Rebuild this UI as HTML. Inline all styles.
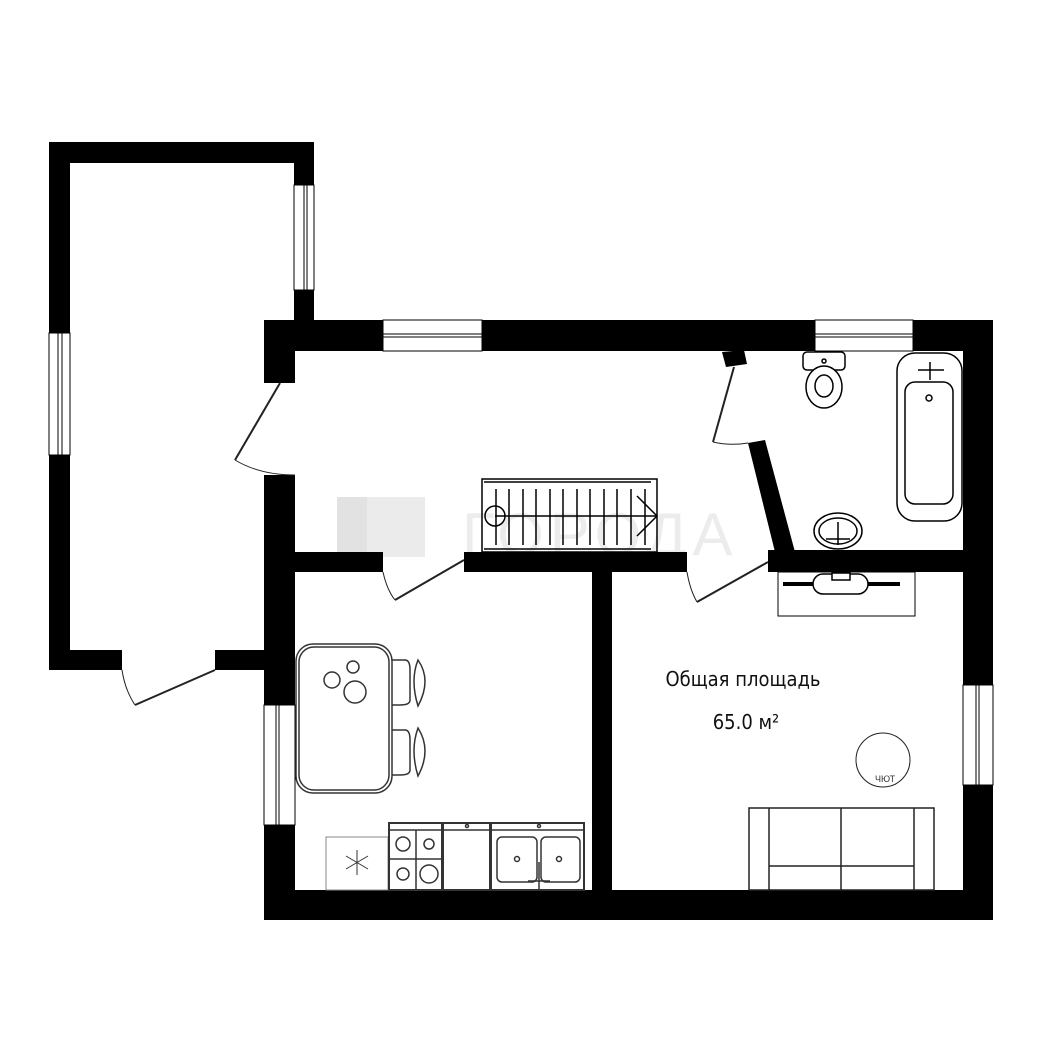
<!DOCTYPE html>
<html><head><meta charset="utf-8"><style>
html,body{margin:0;padding:0;background:#fff;}
svg{display:block;}
</style></head><body>
<svg width="1064" height="1064" viewBox="0 0 1064 1064" xmlns="http://www.w3.org/2000/svg" font-family="Liberation Sans, sans-serif">
<rect width="1064" height="1064" fill="#fff"/>
<!-- watermark -->
<g fill="#ebebeb">
<rect x="337" y="497" width="88" height="60"/>
<rect x="337" y="497" width="30" height="60" fill="#e2e2e2"/>
</g>
<text x="462" y="555" font-size="60" fill="#ececec" letter-spacing="6">ГОРОДА</text>

<g fill="#000">
<!-- annex -->
<rect x="49" y="142" width="265" height="21"/>
<rect x="49" y="142" width="21" height="528"/>
<rect x="49" y="650" width="73" height="20"/>
<rect x="215" y="650" width="50" height="20"/>
<rect x="294" y="142" width="20" height="180"/>
<!-- main outer -->
<rect x="264" y="320" width="729" height="31"/>
<rect x="264" y="320" width="31" height="63"/>
<rect x="264" y="475" width="31" height="445"/>
<rect x="963" y="320" width="30" height="600"/>
<rect x="264" y="890" width="729" height="30"/>
<!-- interior -->
<rect x="295" y="552" width="88" height="20"/>
<rect x="464" y="552" width="223" height="20"/>
<rect x="768" y="550" width="195" height="22"/>
<rect x="592" y="572" width="20" height="318"/>
<polygon points="722,352 744,350 747,364 726,367"/>
<polygon points="748,443 765,440 795,552 775,552"/>
</g>
<!-- windows -->
<g fill="#fff" stroke="#000" stroke-width="1">
<rect x="294" y="185" width="20" height="105"/>
<line x1="304" y1="185" x2="304" y2="290"/><line x1="307" y1="185" x2="307" y2="290"/>
<rect x="49" y="333" width="21" height="122"/>
<line x1="58" y1="333" x2="58" y2="455"/><line x1="62" y1="333" x2="62" y2="455"/>
<rect x="383" y="320" width="99" height="31"/>
<line x1="383" y1="334" x2="482" y2="334"/><line x1="383" y1="337" x2="482" y2="337"/>
<rect x="815" y="320" width="98" height="31"/>
<line x1="815" y1="334" x2="913" y2="334"/><line x1="815" y1="337" x2="913" y2="337"/>
<rect x="264" y="705" width="31" height="120"/>
<line x1="276" y1="705" x2="276" y2="825"/><line x1="279" y1="705" x2="279" y2="825"/>
<rect x="963" y="685" width="30" height="100"/>
<line x1="976" y1="685" x2="976" y2="785"/><line x1="979" y1="685" x2="979" y2="785"/>
</g>
<!-- doors -->
<g fill="none" stroke="#222" stroke-width="2">
<line x1="280" y1="383" x2="235" y2="460"/>
<path d="M235,460 Q260,475 295,475" stroke-width="1"/>
<line x1="215" y1="670" x2="135" y2="705"/>
<path d="M122,670 Q125,690 135,705" stroke-width="1"/>
<line x1="464" y1="560" x2="395" y2="600"/>
<path d="M383,572 Q387,590 395,600" stroke-width="1"/>
<line x1="768" y1="562" x2="697" y2="602"/>
<path d="M687,572 Q690,590 697,602" stroke-width="1"/>
<line x1="734" y1="367" x2="713" y2="442"/>
<path d="M713,442 Q730,446 748,443" stroke-width="1"/>
</g>
<!-- stairs -->
<g fill="none" stroke="#000" stroke-width="1.5">
<rect x="482" y="479" width="175" height="73"/>
<line x1="484" y1="482" x2="651" y2="482"/>
<line x1="484" y1="549" x2="651" y2="549"/>
<path d="M496,489 V545 M509,489 V545 M523,489 V545 M536,489 V545 M550,489 V545 M563,489 V545 M577,489 V545 M590,489 V545 M604,489 V545 M617,489 V545 M631,489 V545 M645,489 V545"/>
<circle cx="495" cy="516" r="10"/>
<line x1="495" y1="516" x2="657" y2="516"/>
<polyline points="637,496 657,516 637,536"/>
</g>
<!-- bathroom -->
<g fill="#fff" stroke="#000" stroke-width="1.5">
<rect x="803" y="352" width="42" height="18" rx="4"/>
<circle cx="824" cy="361" r="2"/>
<ellipse cx="824" cy="387" rx="18" ry="21"/>
<ellipse cx="824" cy="386" rx="9" ry="11"/>
<rect x="897" y="353" width="65" height="168" rx="18"/>
<rect x="905" y="382" width="48" height="122" rx="10"/>
<line x1="930" y1="362" x2="930" y2="380"/>
<line x1="918" y1="370" x2="944" y2="370"/>
<circle cx="929" cy="398" r="3"/>
<ellipse cx="838" cy="531" rx="24" ry="18"/>
<ellipse cx="838" cy="531" rx="19" ry="13"/>
<line x1="838" y1="522" x2="838" y2="545"/>
<line x1="826" y1="539" x2="850" y2="539"/>
<rect x="778" y="572" width="137" height="44" fill="none" stroke-width="1"/>
<line x1="783" y1="584" x2="900" y2="584" stroke-width="4"/>
<rect x="813" y="574" width="55" height="20" rx="10"/>
<rect x="832" y="573" width="18" height="7"/>
</g>
<!-- kitchen -->
<g fill="none" stroke="#333" stroke-width="1.5">
<rect x="296" y="644" width="96" height="149" rx="17"/>
<rect x="299" y="647" width="90" height="143" rx="15"/>
<circle cx="332" cy="680" r="8"/><circle cx="353" cy="667" r="6"/><circle cx="355" cy="692" r="11"/>
<path d="M392,660 H405 Q410,660 410,670 V700 Q410,705 400,705 H392"/>
<path d="M418,660 Q432,680 418,706 Q410,680 418,660Z"/>
<path d="M392,730 H405 Q410,730 410,740 V770 Q410,775 400,775 H392"/>
<path d="M418,728 Q432,750 418,776 Q410,750 418,728Z"/>
<rect x="326" y="837" width="62" height="53" stroke-width="1" stroke="#888"/>
<path d="M357,850 V875 M346,856 L368,869 M346,869 L368,856" stroke-width="1"/>
<rect x="389" y="823" width="53" height="67" stroke-width="2"/>
<line x1="389" y1="830" x2="442" y2="830"/>
<line x1="416" y1="830" x2="416" y2="890"/><line x1="389" y1="859" x2="442" y2="859"/>
<circle cx="403" cy="844" r="7"/><circle cx="429" cy="844" r="5"/><circle cx="403" cy="874" r="6"/><circle cx="429" cy="874" r="9"/>
<rect x="443" y="823" width="47" height="67" stroke-width="2"/>
<line x1="443" y1="830" x2="490" y2="830"/>
<circle cx="467" cy="826" r="1.5"/>
<rect x="491" y="823" width="93" height="67" stroke-width="2"/>
<line x1="491" y1="830" x2="584" y2="830"/>
<circle cx="539" cy="826" r="1.5"/>
<rect x="497" y="837" width="40" height="45" rx="5"/>
<rect x="541" y="837" width="39" height="45" rx="5"/>
<circle cx="517" cy="859" r="2.5"/><circle cx="559" cy="859" r="2.5"/>
<line x1="539" y1="862" x2="539" y2="889"/><line x1="528" y1="881" x2="550" y2="881"/>
</g>
<!-- living -->
<g fill="none" stroke="#222" stroke-width="1.5">
<circle cx="883" cy="760" r="27" stroke-width="1"/>
<rect x="749" y="808" width="185" height="82"/>
<line x1="769" y1="808" x2="769" y2="890"/><line x1="914" y1="808" x2="914" y2="890"/>
<line x1="841" y1="808" x2="841" y2="890"/><line x1="769" y1="866" x2="914" y2="866"/>
</g>
<text x="875" y="782" font-size="9" fill="#333">ЧЮТ</text>
<text x="743" y="686" font-size="20" text-anchor="middle" fill="#111" font-family="DejaVu Sans Condensed, Liberation Sans Narrow, sans-serif">Общая площадь</text>
<text x="746" y="729" font-size="20" text-anchor="middle" fill="#111" font-family="DejaVu Sans Condensed, Liberation Sans Narrow, sans-serif">65.0 м²</text>
</svg>
</body></html>
